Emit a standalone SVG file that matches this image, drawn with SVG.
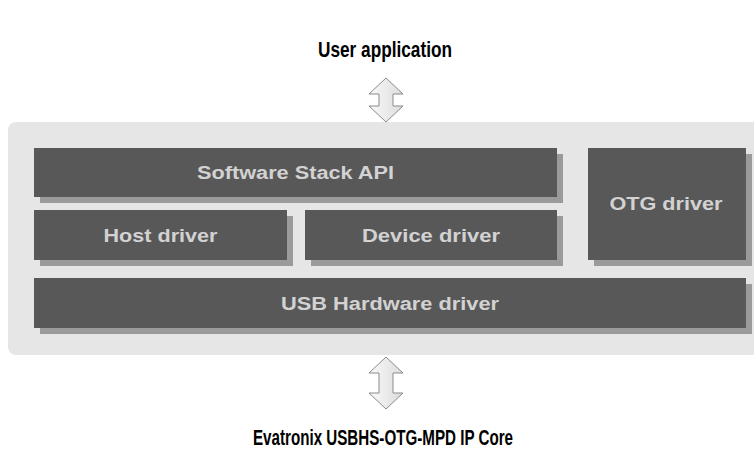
<svg xmlns="http://www.w3.org/2000/svg" width="754" height="464" viewBox="0 0 754 464">
<defs>
<linearGradient id="ag" x1="0" y1="0" x2="1" y2="0">
<stop offset="0" stop-color="#fafafa"/>
<stop offset="1" stop-color="#dcdcdc"/>
</linearGradient>
<style>
.title{font-family:"Liberation Sans",Arial,sans-serif;font-weight:bold;font-size:22px;fill:#000;text-anchor:middle}
.box{fill:#585858}
.sh{fill:#9a9a9a}
.lbl{font-family:"Liberation Sans",Arial,sans-serif;font-weight:bold;font-size:18px;fill:#d2d2d2;text-anchor:middle}
.arrow{fill:url(#ag);stroke:#8a8a8a;stroke-width:1}
</style>
</defs>
<rect width="754" height="464" fill="#fff"/>
<text class="title" x="385" y="57" textLength="134" lengthAdjust="spacingAndGlyphs">User application</text>
<rect id="panel" x="8" y="122" width="760" height="233" rx="8" fill="#e6e6e6"/>
<g id="software-stack-api">
<rect class="sh" x="40" y="154" width="523" height="49"/>
<rect class="box" x="34" y="148" width="523" height="49"/>
<text class="lbl" x="295.5" y="179" textLength="197" lengthAdjust="spacingAndGlyphs">Software Stack API</text>
</g>
<g id="host-driver">
<rect class="sh" x="40" y="216" width="253" height="50"/>
<rect class="box" x="34" y="210" width="253" height="50"/>
<text class="lbl" x="160.5" y="241.5" textLength="114" lengthAdjust="spacingAndGlyphs">Host driver</text>
</g>
<g id="device-driver">
<rect class="sh" x="311" y="216" width="252" height="50"/>
<rect class="box" x="305" y="210" width="252" height="50"/>
<text class="lbl" x="431" y="241.5" textLength="138" lengthAdjust="spacingAndGlyphs">Device driver</text>
</g>
<g id="otg-driver">
<rect class="sh" x="594" y="154" width="158" height="112"/>
<rect class="box" x="588" y="148" width="158" height="112"/>
<text class="lbl" x="666" y="210" textLength="113" lengthAdjust="spacingAndGlyphs">OTG driver</text>
</g>
<g id="usb-hardware-driver">
<rect class="sh" x="40" y="284" width="712" height="50"/>
<rect class="box" x="34" y="278" width="712" height="50"/>
<text class="lbl" x="390" y="309.5" textLength="218" lengthAdjust="spacingAndGlyphs">USB Hardware driver</text>
</g>
<g id="connectors">
<path class="arrow" d="M386,78 L403,94 L393,94 L393,106 L403,106 L386,122 L369,106 L379,106 L379,94 L369,94 Z"/>
<path class="arrow" d="M386,357 L403,373 L393,373 L393,393 L403,393 L386,409 L369,393 L379,393 L379,373 L369,373 Z"/>
</g>
<text class="title" x="383" y="445" textLength="260" lengthAdjust="spacingAndGlyphs">Evatronix USBHS-OTG-MPD IP Core</text>
</svg>
